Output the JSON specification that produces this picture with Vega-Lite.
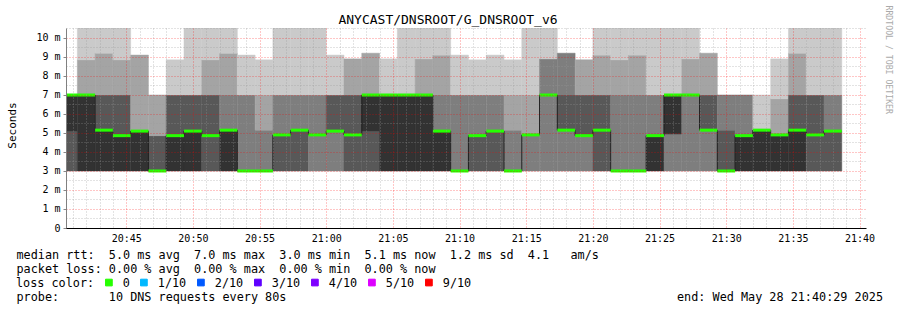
{
"$schema": "https://vega.github.io/schema/vega-lite/v6.json",
"width": 800, "height": 200,
"autosize": {"type": "none"},
"padding": {"left": 66, "top": 28, "right": 31, "bottom": 82},
"background": "white",
"config": {"view": {"stroke": null}, "font": "DejaVu Sans Mono"},
"title": {"text": "ANYCAST/DNSROOT/G_DNSROOT_v6", "font": "DejaVu Sans Mono", "fontSize": 13, "fontWeight": "normal", "color": "black", "anchor": "middle", "dx": -18, "offset": -32, "baseline": "alphabetic"},
"datasets": {
"smoke": [
{"t":"2025-05-28T20:40:00Z","t2":"2025-05-28T20:41:20Z","lo":3,"hi":5.1,"band":"4/7"},
{"t":"2025-05-28T20:40:00Z","t2":"2025-05-28T20:41:20Z","lo":5.1,"hi":7,"band":"5/6"},
{"t":"2025-05-28T20:41:20Z","t2":"2025-05-28T20:42:40Z","lo":3,"hi":7,"band":"5/6"},
{"t":"2025-05-28T20:41:20Z","t2":"2025-05-28T20:42:40Z","lo":7,"hi":8.85,"band":"2/9"},
{"t":"2025-05-28T20:41:20Z","t2":"2025-05-28T20:42:40Z","lo":8.85,"hi":10.6,"band":"1/10"},
{"t":"2025-05-28T20:42:40Z","t2":"2025-05-28T20:44:00Z","lo":3,"hi":5.15,"band":"5/6"},
{"t":"2025-05-28T20:42:40Z","t2":"2025-05-28T20:44:00Z","lo":5.15,"hi":7,"band":"4/7"},
{"t":"2025-05-28T20:42:40Z","t2":"2025-05-28T20:44:00Z","lo":7,"hi":9.2,"band":"2/9"},
{"t":"2025-05-28T20:42:40Z","t2":"2025-05-28T20:44:00Z","lo":9.2,"hi":10.6,"band":"1/10"},
{"t":"2025-05-28T20:44:00Z","t2":"2025-05-28T20:45:20Z","lo":3,"hi":4.86,"band":"5/6"},
{"t":"2025-05-28T20:44:00Z","t2":"2025-05-28T20:45:20Z","lo":4.86,"hi":7,"band":"4/7"},
{"t":"2025-05-28T20:44:00Z","t2":"2025-05-28T20:45:20Z","lo":7,"hi":8.85,"band":"2/9"},
{"t":"2025-05-28T20:44:00Z","t2":"2025-05-28T20:45:20Z","lo":8.85,"hi":10.6,"band":"1/10"},
{"t":"2025-05-28T20:45:20Z","t2":"2025-05-28T20:46:40Z","lo":3,"hi":5.1,"band":"5/6"},
{"t":"2025-05-28T20:45:20Z","t2":"2025-05-28T20:46:40Z","lo":5.1,"hi":9.1,"band":"2/9"},
{"t":"2025-05-28T20:46:40Z","t2":"2025-05-28T20:48:00Z","lo":3,"hi":4.86,"band":"4/7"},
{"t":"2025-05-28T20:46:40Z","t2":"2025-05-28T20:48:00Z","lo":4.86,"hi":7,"band":"2/9"},
{"t":"2025-05-28T20:48:00Z","t2":"2025-05-28T20:49:20Z","lo":3,"hi":4.86,"band":"5/6"},
{"t":"2025-05-28T20:48:00Z","t2":"2025-05-28T20:49:20Z","lo":4.86,"hi":7,"band":"4/7"},
{"t":"2025-05-28T20:48:00Z","t2":"2025-05-28T20:49:20Z","lo":7,"hi":8.85,"band":"1/10"},
{"t":"2025-05-28T20:49:20Z","t2":"2025-05-28T20:50:40Z","lo":3,"hi":5.1,"band":"5/6"},
{"t":"2025-05-28T20:49:20Z","t2":"2025-05-28T20:50:40Z","lo":5.1,"hi":7,"band":"4/7"},
{"t":"2025-05-28T20:49:20Z","t2":"2025-05-28T20:50:40Z","lo":7,"hi":10.6,"band":"1/10"},
{"t":"2025-05-28T20:50:40Z","t2":"2025-05-28T20:52:00Z","lo":3,"hi":7,"band":"4/7"},
{"t":"2025-05-28T20:50:40Z","t2":"2025-05-28T20:52:00Z","lo":7,"hi":8.85,"band":"2/9"},
{"t":"2025-05-28T20:50:40Z","t2":"2025-05-28T20:52:00Z","lo":8.85,"hi":10.6,"band":"1/10"},
{"t":"2025-05-28T20:52:00Z","t2":"2025-05-28T20:53:20Z","lo":3,"hi":5.15,"band":"5/6"},
{"t":"2025-05-28T20:52:00Z","t2":"2025-05-28T20:53:20Z","lo":5.15,"hi":7,"band":"3/8"},
{"t":"2025-05-28T20:52:00Z","t2":"2025-05-28T20:53:20Z","lo":7,"hi":9.2,"band":"2/9"},
{"t":"2025-05-28T20:52:00Z","t2":"2025-05-28T20:53:20Z","lo":9.2,"hi":10.6,"band":"1/10"},
{"t":"2025-05-28T20:53:20Z","t2":"2025-05-28T20:54:40Z","lo":3,"hi":7,"band":"3/8"},
{"t":"2025-05-28T20:53:20Z","t2":"2025-05-28T20:54:40Z","lo":7,"hi":9.1,"band":"1/10"},
{"t":"2025-05-28T20:54:40Z","t2":"2025-05-28T20:56:00Z","lo":3,"hi":5.15,"band":"3/8"},
{"t":"2025-05-28T20:54:40Z","t2":"2025-05-28T20:56:00Z","lo":5.15,"hi":7,"band":"2/9"},
{"t":"2025-05-28T20:54:40Z","t2":"2025-05-28T20:56:00Z","lo":7,"hi":8.85,"band":"1/10"},
{"t":"2025-05-28T20:56:00Z","t2":"2025-05-28T20:57:20Z","lo":3,"hi":4.9,"band":"4/7"},
{"t":"2025-05-28T20:56:00Z","t2":"2025-05-28T20:57:20Z","lo":4.9,"hi":7,"band":"3/8"},
{"t":"2025-05-28T20:56:00Z","t2":"2025-05-28T20:57:20Z","lo":7,"hi":10.6,"band":"1/10"},
{"t":"2025-05-28T20:57:20Z","t2":"2025-05-28T20:58:40Z","lo":3,"hi":5.15,"band":"4/7"},
{"t":"2025-05-28T20:57:20Z","t2":"2025-05-28T20:58:40Z","lo":5.15,"hi":7,"band":"3/8"},
{"t":"2025-05-28T20:57:20Z","t2":"2025-05-28T20:58:40Z","lo":7,"hi":10.6,"band":"1/10"},
{"t":"2025-05-28T20:58:40Z","t2":"2025-05-28T21:00:00Z","lo":3,"hi":7,"band":"3/8"},
{"t":"2025-05-28T20:58:40Z","t2":"2025-05-28T21:00:00Z","lo":7,"hi":10.6,"band":"1/10"},
{"t":"2025-05-28T21:00:00Z","t2":"2025-05-28T21:01:20Z","lo":3,"hi":5.1,"band":"3/8"},
{"t":"2025-05-28T21:00:00Z","t2":"2025-05-28T21:01:20Z","lo":5.1,"hi":7,"band":"4/7"},
{"t":"2025-05-28T21:00:00Z","t2":"2025-05-28T21:01:20Z","lo":7,"hi":9.1,"band":"1/10"},
{"t":"2025-05-28T21:01:20Z","t2":"2025-05-28T21:02:40Z","lo":3,"hi":7,"band":"4/7"},
{"t":"2025-05-28T21:01:20Z","t2":"2025-05-28T21:02:40Z","lo":7,"hi":8.9,"band":"2/9"},
{"t":"2025-05-28T21:02:40Z","t2":"2025-05-28T21:04:00Z","lo":3,"hi":5.1,"band":"4/7"},
{"t":"2025-05-28T21:02:40Z","t2":"2025-05-28T21:04:00Z","lo":5.1,"hi":7,"band":"5/6"},
{"t":"2025-05-28T21:02:40Z","t2":"2025-05-28T21:04:00Z","lo":7,"hi":9.2,"band":"2/9"},
{"t":"2025-05-28T21:04:00Z","t2":"2025-05-28T21:05:20Z","lo":3,"hi":7,"band":"5/6"},
{"t":"2025-05-28T21:04:00Z","t2":"2025-05-28T21:05:20Z","lo":7,"hi":8.9,"band":"1/10"},
{"t":"2025-05-28T21:05:20Z","t2":"2025-05-28T21:06:40Z","lo":3,"hi":7,"band":"5/6"},
{"t":"2025-05-28T21:05:20Z","t2":"2025-05-28T21:06:40Z","lo":7,"hi":10.6,"band":"1/10"},
{"t":"2025-05-28T21:06:40Z","t2":"2025-05-28T21:08:00Z","lo":3,"hi":7,"band":"5/6"},
{"t":"2025-05-28T21:06:40Z","t2":"2025-05-28T21:08:00Z","lo":7,"hi":8.9,"band":"2/9"},
{"t":"2025-05-28T21:06:40Z","t2":"2025-05-28T21:08:00Z","lo":8.9,"hi":10.6,"band":"1/10"},
{"t":"2025-05-28T21:08:00Z","t2":"2025-05-28T21:09:20Z","lo":3,"hi":5.1,"band":"5/6"},
{"t":"2025-05-28T21:08:00Z","t2":"2025-05-28T21:09:20Z","lo":5.1,"hi":7,"band":"3/8"},
{"t":"2025-05-28T21:08:00Z","t2":"2025-05-28T21:09:20Z","lo":7,"hi":9.1,"band":"2/9"},
{"t":"2025-05-28T21:08:00Z","t2":"2025-05-28T21:09:20Z","lo":9.1,"hi":10.6,"band":"1/10"},
{"t":"2025-05-28T21:09:20Z","t2":"2025-05-28T21:10:40Z","lo":3,"hi":7,"band":"3/8"},
{"t":"2025-05-28T21:09:20Z","t2":"2025-05-28T21:10:40Z","lo":7,"hi":9.1,"band":"1/10"},
{"t":"2025-05-28T21:10:40Z","t2":"2025-05-28T21:12:00Z","lo":3,"hi":4.86,"band":"4/7"},
{"t":"2025-05-28T21:10:40Z","t2":"2025-05-28T21:12:00Z","lo":4.86,"hi":7,"band":"3/8"},
{"t":"2025-05-28T21:10:40Z","t2":"2025-05-28T21:12:00Z","lo":7,"hi":8.85,"band":"1/10"},
{"t":"2025-05-28T21:12:00Z","t2":"2025-05-28T21:13:20Z","lo":3,"hi":5.1,"band":"4/7"},
{"t":"2025-05-28T21:12:00Z","t2":"2025-05-28T21:13:20Z","lo":5.1,"hi":7,"band":"3/8"},
{"t":"2025-05-28T21:12:00Z","t2":"2025-05-28T21:13:20Z","lo":7,"hi":9.1,"band":"1/10"},
{"t":"2025-05-28T21:13:20Z","t2":"2025-05-28T21:14:40Z","lo":3,"hi":5.15,"band":"3/8"},
{"t":"2025-05-28T21:13:20Z","t2":"2025-05-28T21:14:40Z","lo":5.15,"hi":7,"band":"2/9"},
{"t":"2025-05-28T21:13:20Z","t2":"2025-05-28T21:14:40Z","lo":7,"hi":8.85,"band":"1/10"},
{"t":"2025-05-28T21:14:40Z","t2":"2025-05-28T21:16:00Z","lo":3,"hi":4.9,"band":"3/8"},
{"t":"2025-05-28T21:14:40Z","t2":"2025-05-28T21:16:00Z","lo":4.9,"hi":7,"band":"2/9"},
{"t":"2025-05-28T21:14:40Z","t2":"2025-05-28T21:16:00Z","lo":7,"hi":10.6,"band":"1/10"},
{"t":"2025-05-28T21:16:00Z","t2":"2025-05-28T21:17:20Z","lo":3,"hi":8.9,"band":"3/8"},
{"t":"2025-05-28T21:16:00Z","t2":"2025-05-28T21:17:20Z","lo":8.9,"hi":10.6,"band":"1/10"},
{"t":"2025-05-28T21:17:20Z","t2":"2025-05-28T21:18:40Z","lo":3,"hi":5.15,"band":"3/8"},
{"t":"2025-05-28T21:17:20Z","t2":"2025-05-28T21:18:40Z","lo":5.15,"hi":7,"band":"4/7"},
{"t":"2025-05-28T21:17:20Z","t2":"2025-05-28T21:18:40Z","lo":7,"hi":9.2,"band":"3/8"},
{"t":"2025-05-28T21:18:40Z","t2":"2025-05-28T21:20:00Z","lo":3,"hi":4.86,"band":"3/8"},
{"t":"2025-05-28T21:18:40Z","t2":"2025-05-28T21:20:00Z","lo":4.86,"hi":7,"band":"4/7"},
{"t":"2025-05-28T21:18:40Z","t2":"2025-05-28T21:20:00Z","lo":7,"hi":8.85,"band":"2/9"},
{"t":"2025-05-28T21:20:00Z","t2":"2025-05-28T21:21:20Z","lo":3,"hi":7,"band":"4/7"},
{"t":"2025-05-28T21:20:00Z","t2":"2025-05-28T21:21:20Z","lo":7,"hi":9.1,"band":"2/9"},
{"t":"2025-05-28T21:20:00Z","t2":"2025-05-28T21:21:20Z","lo":9.1,"hi":10.6,"band":"1/10"},
{"t":"2025-05-28T21:21:20Z","t2":"2025-05-28T21:22:40Z","lo":3,"hi":7,"band":"3/8"},
{"t":"2025-05-28T21:21:20Z","t2":"2025-05-28T21:22:40Z","lo":7,"hi":8.85,"band":"2/9"},
{"t":"2025-05-28T21:21:20Z","t2":"2025-05-28T21:22:40Z","lo":8.85,"hi":10.6,"band":"1/10"},
{"t":"2025-05-28T21:22:40Z","t2":"2025-05-28T21:24:00Z","lo":3,"hi":7,"band":"3/8"},
{"t":"2025-05-28T21:22:40Z","t2":"2025-05-28T21:24:00Z","lo":7,"hi":9.1,"band":"2/9"},
{"t":"2025-05-28T21:22:40Z","t2":"2025-05-28T21:24:00Z","lo":9.1,"hi":10.6,"band":"1/10"},
{"t":"2025-05-28T21:24:00Z","t2":"2025-05-28T21:25:20Z","lo":3,"hi":4.86,"band":"5/6"},
{"t":"2025-05-28T21:24:00Z","t2":"2025-05-28T21:25:20Z","lo":4.86,"hi":7,"band":"3/8"},
{"t":"2025-05-28T21:24:00Z","t2":"2025-05-28T21:25:20Z","lo":7,"hi":10.6,"band":"1/10"},
{"t":"2025-05-28T21:25:20Z","t2":"2025-05-28T21:26:40Z","lo":3,"hi":4.95,"band":"3/8"},
{"t":"2025-05-28T21:25:20Z","t2":"2025-05-28T21:26:40Z","lo":4.95,"hi":7,"band":"5/6"},
{"t":"2025-05-28T21:25:20Z","t2":"2025-05-28T21:26:40Z","lo":7,"hi":10.6,"band":"1/10"},
{"t":"2025-05-28T21:26:40Z","t2":"2025-05-28T21:28:00Z","lo":3,"hi":7,"band":"3/8"},
{"t":"2025-05-28T21:26:40Z","t2":"2025-05-28T21:28:00Z","lo":7,"hi":8.9,"band":"2/9"},
{"t":"2025-05-28T21:26:40Z","t2":"2025-05-28T21:28:00Z","lo":8.9,"hi":10.6,"band":"1/10"},
{"t":"2025-05-28T21:28:00Z","t2":"2025-05-28T21:29:20Z","lo":3,"hi":5.15,"band":"3/8"},
{"t":"2025-05-28T21:28:00Z","t2":"2025-05-28T21:29:20Z","lo":5.15,"hi":7,"band":"4/7"},
{"t":"2025-05-28T21:28:00Z","t2":"2025-05-28T21:29:20Z","lo":7,"hi":9.2,"band":"2/9"},
{"t":"2025-05-28T21:29:20Z","t2":"2025-05-28T21:30:40Z","lo":3,"hi":5.15,"band":"4/7"},
{"t":"2025-05-28T21:29:20Z","t2":"2025-05-28T21:30:40Z","lo":5.15,"hi":7,"band":"3/8"},
{"t":"2025-05-28T21:30:40Z","t2":"2025-05-28T21:32:00Z","lo":3,"hi":4.86,"band":"5/6"},
{"t":"2025-05-28T21:30:40Z","t2":"2025-05-28T21:32:00Z","lo":4.86,"hi":7,"band":"3/8"},
{"t":"2025-05-28T21:32:00Z","t2":"2025-05-28T21:33:20Z","lo":3,"hi":5.15,"band":"5/6"},
{"t":"2025-05-28T21:32:00Z","t2":"2025-05-28T21:33:20Z","lo":5.15,"hi":7,"band":"1/10"},
{"t":"2025-05-28T21:33:20Z","t2":"2025-05-28T21:34:40Z","lo":3,"hi":4.9,"band":"5/6"},
{"t":"2025-05-28T21:33:20Z","t2":"2025-05-28T21:34:40Z","lo":4.9,"hi":6.8,"band":"2/9"},
{"t":"2025-05-28T21:33:20Z","t2":"2025-05-28T21:34:40Z","lo":6.8,"hi":8.9,"band":"1/10"},
{"t":"2025-05-28T21:34:40Z","t2":"2025-05-28T21:36:00Z","lo":3,"hi":5.15,"band":"5/6"},
{"t":"2025-05-28T21:34:40Z","t2":"2025-05-28T21:36:00Z","lo":5.15,"hi":7,"band":"4/7"},
{"t":"2025-05-28T21:34:40Z","t2":"2025-05-28T21:36:00Z","lo":7,"hi":9.2,"band":"2/9"},
{"t":"2025-05-28T21:34:40Z","t2":"2025-05-28T21:36:00Z","lo":9.2,"hi":10.6,"band":"1/10"},
{"t":"2025-05-28T21:36:00Z","t2":"2025-05-28T21:37:20Z","lo":3,"hi":7,"band":"4/7"},
{"t":"2025-05-28T21:36:00Z","t2":"2025-05-28T21:37:20Z","lo":7,"hi":10.6,"band":"1/10"},
{"t":"2025-05-28T21:37:20Z","t2":"2025-05-28T21:38:40Z","lo":3,"hi":5.1,"band":"4/7"},
{"t":"2025-05-28T21:37:20Z","t2":"2025-05-28T21:38:40Z","lo":5.1,"hi":7,"band":"3/8"},
{"t":"2025-05-28T21:37:20Z","t2":"2025-05-28T21:38:40Z","lo":7,"hi":10.6,"band":"1/10"}
],
"median": [
{"t":"2025-05-28T20:40:00Z","t2":"2025-05-28T20:41:20Z","ms":7,"loss":"0"},
{"t":"2025-05-28T20:41:20Z","t2":"2025-05-28T20:42:40Z","ms":7,"loss":"0"},
{"t":"2025-05-28T20:42:40Z","t2":"2025-05-28T20:44:00Z","ms":5.15,"loss":"0"},
{"t":"2025-05-28T20:44:00Z","t2":"2025-05-28T20:45:20Z","ms":4.86,"loss":"0"},
{"t":"2025-05-28T20:45:20Z","t2":"2025-05-28T20:46:40Z","ms":5.1,"loss":"0"},
{"t":"2025-05-28T20:46:40Z","t2":"2025-05-28T20:48:00Z","ms":3,"loss":"0"},
{"t":"2025-05-28T20:48:00Z","t2":"2025-05-28T20:49:20Z","ms":4.86,"loss":"0"},
{"t":"2025-05-28T20:49:20Z","t2":"2025-05-28T20:50:40Z","ms":5.1,"loss":"0"},
{"t":"2025-05-28T20:50:40Z","t2":"2025-05-28T20:52:00Z","ms":4.86,"loss":"0"},
{"t":"2025-05-28T20:52:00Z","t2":"2025-05-28T20:53:20Z","ms":5.15,"loss":"0"},
{"t":"2025-05-28T20:53:20Z","t2":"2025-05-28T20:54:40Z","ms":3,"loss":"0"},
{"t":"2025-05-28T20:54:40Z","t2":"2025-05-28T20:56:00Z","ms":3,"loss":"0"},
{"t":"2025-05-28T20:56:00Z","t2":"2025-05-28T20:57:20Z","ms":4.9,"loss":"0"},
{"t":"2025-05-28T20:57:20Z","t2":"2025-05-28T20:58:40Z","ms":5.15,"loss":"0"},
{"t":"2025-05-28T20:58:40Z","t2":"2025-05-28T21:00:00Z","ms":4.9,"loss":"0"},
{"t":"2025-05-28T21:00:00Z","t2":"2025-05-28T21:01:20Z","ms":5.1,"loss":"0"},
{"t":"2025-05-28T21:01:20Z","t2":"2025-05-28T21:02:40Z","ms":4.9,"loss":"0"},
{"t":"2025-05-28T21:02:40Z","t2":"2025-05-28T21:04:00Z","ms":7,"loss":"0"},
{"t":"2025-05-28T21:04:00Z","t2":"2025-05-28T21:05:20Z","ms":7,"loss":"0"},
{"t":"2025-05-28T21:05:20Z","t2":"2025-05-28T21:06:40Z","ms":7,"loss":"0"},
{"t":"2025-05-28T21:06:40Z","t2":"2025-05-28T21:08:00Z","ms":7,"loss":"0"},
{"t":"2025-05-28T21:08:00Z","t2":"2025-05-28T21:09:20Z","ms":5.1,"loss":"0"},
{"t":"2025-05-28T21:09:20Z","t2":"2025-05-28T21:10:40Z","ms":3,"loss":"0"},
{"t":"2025-05-28T21:10:40Z","t2":"2025-05-28T21:12:00Z","ms":4.86,"loss":"0"},
{"t":"2025-05-28T21:12:00Z","t2":"2025-05-28T21:13:20Z","ms":5.1,"loss":"0"},
{"t":"2025-05-28T21:13:20Z","t2":"2025-05-28T21:14:40Z","ms":3,"loss":"0"},
{"t":"2025-05-28T21:14:40Z","t2":"2025-05-28T21:16:00Z","ms":4.9,"loss":"0"},
{"t":"2025-05-28T21:16:00Z","t2":"2025-05-28T21:17:20Z","ms":7,"loss":"0"},
{"t":"2025-05-28T21:17:20Z","t2":"2025-05-28T21:18:40Z","ms":5.15,"loss":"0"},
{"t":"2025-05-28T21:18:40Z","t2":"2025-05-28T21:20:00Z","ms":4.86,"loss":"0"},
{"t":"2025-05-28T21:20:00Z","t2":"2025-05-28T21:21:20Z","ms":5.15,"loss":"0"},
{"t":"2025-05-28T21:21:20Z","t2":"2025-05-28T21:22:40Z","ms":3,"loss":"0"},
{"t":"2025-05-28T21:22:40Z","t2":"2025-05-28T21:24:00Z","ms":3,"loss":"0"},
{"t":"2025-05-28T21:24:00Z","t2":"2025-05-28T21:25:20Z","ms":4.86,"loss":"0"},
{"t":"2025-05-28T21:25:20Z","t2":"2025-05-28T21:26:40Z","ms":7,"loss":"0"},
{"t":"2025-05-28T21:26:40Z","t2":"2025-05-28T21:28:00Z","ms":7,"loss":"0"},
{"t":"2025-05-28T21:28:00Z","t2":"2025-05-28T21:29:20Z","ms":5.15,"loss":"0"},
{"t":"2025-05-28T21:29:20Z","t2":"2025-05-28T21:30:40Z","ms":3,"loss":"0"},
{"t":"2025-05-28T21:30:40Z","t2":"2025-05-28T21:32:00Z","ms":4.86,"loss":"0"},
{"t":"2025-05-28T21:32:00Z","t2":"2025-05-28T21:33:20Z","ms":5.15,"loss":"0"},
{"t":"2025-05-28T21:33:20Z","t2":"2025-05-28T21:34:40Z","ms":4.9,"loss":"0"},
{"t":"2025-05-28T21:34:40Z","t2":"2025-05-28T21:36:00Z","ms":5.15,"loss":"0"},
{"t":"2025-05-28T21:36:00Z","t2":"2025-05-28T21:37:20Z","ms":4.9,"loss":"0"},
{"t":"2025-05-28T21:37:20Z","t2":"2025-05-28T21:38:40Z","ms":5.1,"loss":"0"}
]
},
"layer": [
{
"data": {"name": "smoke"},
"mark": {"type": "rect", "clip": true, "strokeWidth": 0.5},
"encoding": {
"x": {"field": "t", "type": "temporal",
 "scale": {"type": "utc", "domain": [1748464829000, 1748468429000]},
 "axis": {"orient": "bottom", "values": [1748464860000,1748464920000,1748464980000,1748465040000,1748465100000,1748465160000,1748465220000,1748465280000,1748465340000,1748465400000,1748465460000,1748465520000,1748465580000,1748465640000,1748465700000,1748465760000,1748465820000,1748465880000,1748465940000,1748466000000,1748466060000,1748466120000,1748466180000,1748466240000,1748466300000,1748466360000,1748466420000,1748466480000,1748466540000,1748466600000,1748466660000,1748466720000,1748466780000,1748466840000,1748466900000,1748466960000,1748467020000,1748467080000,1748467140000,1748467200000,1748467260000,1748467320000,1748467380000,1748467440000,1748467500000,1748467560000,1748467620000,1748467680000,1748467740000,1748467800000,1748467860000,1748467920000,1748467980000,1748468040000,1748468100000,1748468160000,1748468220000,1748468280000,1748468340000,1748468400000],
  "labels": false, "ticks": false, "domain": false,
  "grid": true, "gridDash": [1, 2],
  "gridColor": {"condition": {"test": "utcminutes(datum.value) % 5 == 0", "value": "#ff0000"}, "value": "#999999"},
  "gridOpacity": {"condition": {"test": "utcminutes(datum.value) % 5 == 0", "value": 0.45}, "value": 0.55},
  "title": null, "zindex": 1}},
"x2": {"field": "t2"},
"y": {"field": "lo", "type": "quantitative", "scale": {"domain": [0, 10.5263], "nice": false, "zero": false},
 "axis": {"orient": "left", "values": [0, 0.5, 1, 1.5, 2, 2.5, 3, 3.5, 4, 4.5, 5, 5.5, 6, 6.5, 7, 7.5, 8, 8.5, 9, 9.5, 10, 10.5],
  "labelExpr": "datum.value % 1 != 0 ? '' : (datum.value == 0 ? '0' : datum.value + ' m')",
  "labelFont": "DejaVu Sans Mono", "labelFontSize": 10, "labelColor": "black", "labelPadding": 3, "labelOverlap": false,
  "tickSize": {"condition": {"test": "datum.value % 1 == 0", "value": 3}, "value": 0}, "tickColor": "#888888",
  "domain": true, "domainColor": "#808080",
  "grid": true, "gridDash": [1, 2],
  "gridColor": {"condition": {"test": "datum.value % 1 == 0", "value": "#ff0000"}, "value": "#999999"},
  "gridOpacity": {"condition": {"test": "datum.value % 1 == 0", "value": 0.45}, "value": 0.55},
  "title": "Seconds", "titleFont": "DejaVu Sans Mono", "titleFontSize": 11, "titleFontWeight": "normal", "titleColor": "black", "titleAngle": 270, "titleAlign": "center", "titleBaseline": "alphabetic", "titleX": -51, "titleY": 97, "zindex": 1}},
"y2": {"field": "hi"},
"fill": {"field": "band", "type": "nominal", "scale": {"domain": ["1/10", "2/9", "3/8", "4/7", "5/6"], "range": ["#cacaca", "#a4a4a4", "#7e7e7e", "#585858", "#323232"]}, "legend": null},
"stroke": {"field": "band", "type": "nominal", "scale": {"domain": ["1/10", "2/9", "3/8", "4/7", "5/6"], "range": ["#cacaca", "#a4a4a4", "#7e7e7e", "#585858", "#323232"]}, "legend": null}
}
},
{
"data": {"name": "median"},
"mark": {"type": "line", "interpolate": "step-after", "color": "#202020", "strokeWidth": 1, "clip": true},
"encoding": {
"x": {"field": "t", "type": "temporal",
 "axis": {"orient": "bottom", "tickCount": 12, "format": "%H:%M", "labelFont": "DejaVu Sans Mono", "labelFontSize": 10, "labelColor": "black", "labelPadding": 5, "labelBaseline": "top", "labelFlush": false, "labelOverlap": false, "ticks": false, "domain": true, "domainColor": "black", "grid": false, "title": null, "zindex": 2}},
"y": {"field": "ms", "type": "quantitative",
 "axis": {"orient": "left", "labels": false, "ticks": false, "domain": false, "grid": false,
  "title": ["median\u00a0rtt:\u00a0\u00a05.0\u00a0ms\u00a0avg\u00a0\u00a07.0\u00a0ms\u00a0max\u00a0\u00a03.0\u00a0ms\u00a0min\u00a0\u00a05.1\u00a0ms\u00a0now\u00a0\u00a01.2\u00a0ms\u00a0sd\u00a0\u00a04.1\u00a0\u00a0\u00a0am/s", "packet\u00a0loss:\u00a00.00\u00a0%\u00a0avg\u00a0\u00a00.00\u00a0%\u00a0max\u00a0\u00a00.00\u00a0%\u00a0min\u00a0\u00a00.00\u00a0%\u00a0now", "\u200b", "probe:\u00a0\u00a0\u00a0\u00a0\u00a0\u00a0\u00a010\u00a0DNS\u00a0requests\u00a0every\u00a080s\u00a0\u00a0\u00a0\u00a0\u00a0\u00a0\u00a0\u00a0\u00a0\u00a0\u00a0\u00a0\u00a0\u00a0\u00a0\u00a0\u00a0\u00a0\u00a0\u00a0\u00a0\u00a0\u00a0\u00a0\u00a0\u00a0\u00a0\u00a0\u00a0\u00a0\u00a0\u00a0\u00a0\u00a0\u00a0\u00a0\u00a0\u00a0\u00a0\u00a0\u00a0\u00a0\u00a0\u00a0\u00a0\u00a0\u00a0\u00a0\u00a0\u00a0\u00a0\u00a0\u00a0\u00a0\u00a0end:\u00a0Wed\u00a0May\u00a028\u00a021:40:29\u00a02025"],
  "titleFont": "DejaVu Sans Mono", "titleFontSize": 11.8, "titleFontWeight": "normal", "titleColor": "black", "titleAngle": 0, "titleAlign": "left", "titleBaseline": "alphabetic", "titleX": -50, "titleY": 230, "titleLineHeight": 14}}
}
},
{
"data": {"name": "median"},
"mark": {"type": "rule", "strokeWidth": 3, "clip": true},
"encoding": {
"x": {"field": "t", "type": "temporal", "axis": null},
"x2": {"field": "t2"},
"y": {"field": "ms", "type": "quantitative",
 "axis": {"orient": "right", "labels": false, "ticks": false, "domain": false, "grid": false, "title": "RRDTOOL / TOBI OETIKER", "titleFont": "DejaVu Sans Mono", "titleFontSize": 8.2, "titleFontWeight": "normal", "titleColor": "#aaaaaa", "titleAngle": 90, "titleAlign": "left", "titleBaseline": "alphabetic", "titleX": 19, "titleY": -23}},
"color": {"field": "loss", "type": "nominal",
 "scale": {"domain": ["0", "1/10", "2/10", "3/10", "4/10", "5/10", "9/10"], "range": ["#26ff00", "#00b8ff", "#0059ff", "#5e00ff", "#7e00ff", "#dd00ff", "#ff0000"]},
 "legend": {"orient": "none", "legendX": -50, "legendY": 248.5, "direction": "horizontal", "title": "loss color:", "titleOrient": "left", "titleFont": "DejaVu Sans Mono", "titleFontSize": 11.8, "titleFontWeight": "normal", "titleColor": "black", "titlePadding": 8, "labelFont": "DejaVu Sans Mono", "labelFontSize": 11.8, "labelColor": "black", "labelOffset": 8, "symbolType": "square", "symbolSize": 45, "symbolStrokeWidth": 1, "columnPadding": 8,
  "encode": {"symbols": {"update": {"fill": {"scale": "color", "field": "value"}, "stroke": {"value": "black"}, "strokeWidth": {"value": 1}}}}}}
}
}
],
"resolve": {"axis": {"x": "independent", "y": "independent"}}
}
